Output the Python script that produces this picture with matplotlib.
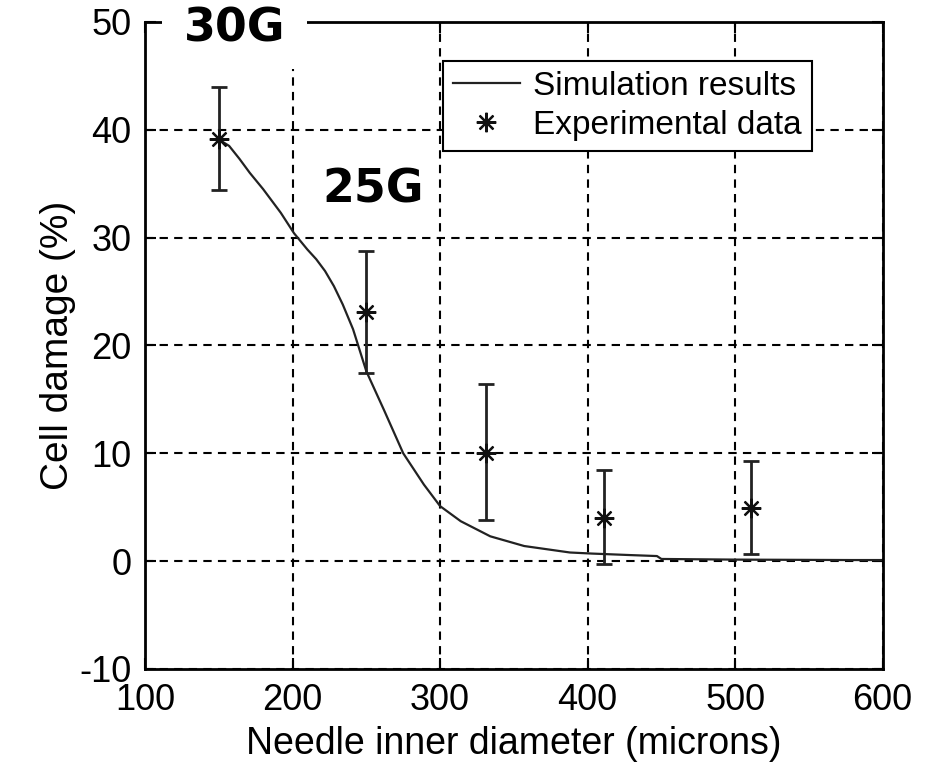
import matplotlib.pyplot as plt
from matplotlib.patches import Rectangle

# simulation curve
sim_x = [150, 157, 164, 171, 180, 192, 201, 210, 216, 222, 228, 234, 241, 250,
         262, 275, 289, 300, 314, 334, 357, 388, 403, 429, 447, 450, 500, 578,
         600]
sim_y = [39.1, 38.5, 37.3, 36.0, 34.5, 32.3, 30.4, 28.9, 28.0, 26.9, 25.5, 23.8,
         21.5, 17.6, 14.0, 10.0, 7.1, 5.1, 3.7, 2.3, 1.4, 0.8, 0.7, 0.56, 0.47,
         0.2, 0.14, 0.1, 0.1]

# experimental data with error bars
exp_x = [150, 250, 331, 411, 511]
exp_y = [39.1, 23.1, 10.0, 4.0, 4.9]
exp_lo = [34.4, 17.4, 3.8, -0.3, 0.7]
exp_hi = [44.0, 28.8, 16.4, 8.45, 9.3]

plt.rcParams["font.family"] = ["Liberation Sans", "DejaVu Sans"]
plt.rcParams["axes.unicode_minus"] = False

fig = plt.figure(figsize=(9.42, 7.74), dpi=100)
ax = fig.add_axes([0.154, 0.1357, 0.783, 0.836])

ax.plot(sim_x, sim_y, color="#222222", lw=1.6, label="Simulation results")
yerr = [[y - lo for y, lo in zip(exp_y, exp_lo)],
        [hi - y for y, hi in zip(exp_y, exp_hi)]]
ax.errorbar(exp_x, exp_y, yerr=yerr, fmt="none", ecolor="#222222",
            elinewidth=2, capsize=6, capthick=2)
ax.plot(exp_x, exp_y, ls="none", marker=(8, 2, 0), ms=14, mew=1.6,
        color="#111111", label="Experimental data")

ax.set_xlim(100, 600)
ax.set_ylim(-10, 50)
ax.set_xticks([100, 200, 300, 400, 500, 600])
ax.set_yticks([-10, 0, 10, 20, 30, 40, 50])
ax.grid(True, ls=(0, (4, 3)), color="black", lw=1.5)
ax.tick_params(direction="in", length=8, width=1.5, labelsize=26,
               top=True, right=True, pad=10)
for s in ax.spines.values():
    s.set_linewidth(2)

ax.set_xlabel("Needle inner diameter (microns)", fontsize=27, labelpad=6)
ax.set_ylabel("Cell damage (%)", fontsize=28, labelpad=2)

leg = ax.legend(loc="upper left", bbox_to_anchor=(0.404, 0.94), fontsize=24,
                frameon=True, fancybox=False, edgecolor="black",
                framealpha=1, handlelength=2.0, borderpad=0.3,
                labelspacing=0.25, handletextpad=0.4, borderaxespad=0)
leg.get_frame().set_linewidth(1.5)

# white patch behind the gauge label at the top
fig.patches.append(Rectangle((0.172, 0.911), 0.154, 0.089,
                             transform=fig.transFigure, facecolor="white",
                             edgecolor="none", zorder=3))
fig.text(0.249, 0.962, "30G", fontsize=33, fontweight="bold",
         family="DejaVu Sans", ha="center", va="center", zorder=4)
ax.text(0.309, 0.740, "25G", fontsize=33, fontweight="bold",
        family="DejaVu Sans", ha="center", va="center", transform=ax.transAxes,
        bbox=dict(facecolor="white", edgecolor="none", pad=2), zorder=5)

fig.savefig("out.png", dpi=100)
